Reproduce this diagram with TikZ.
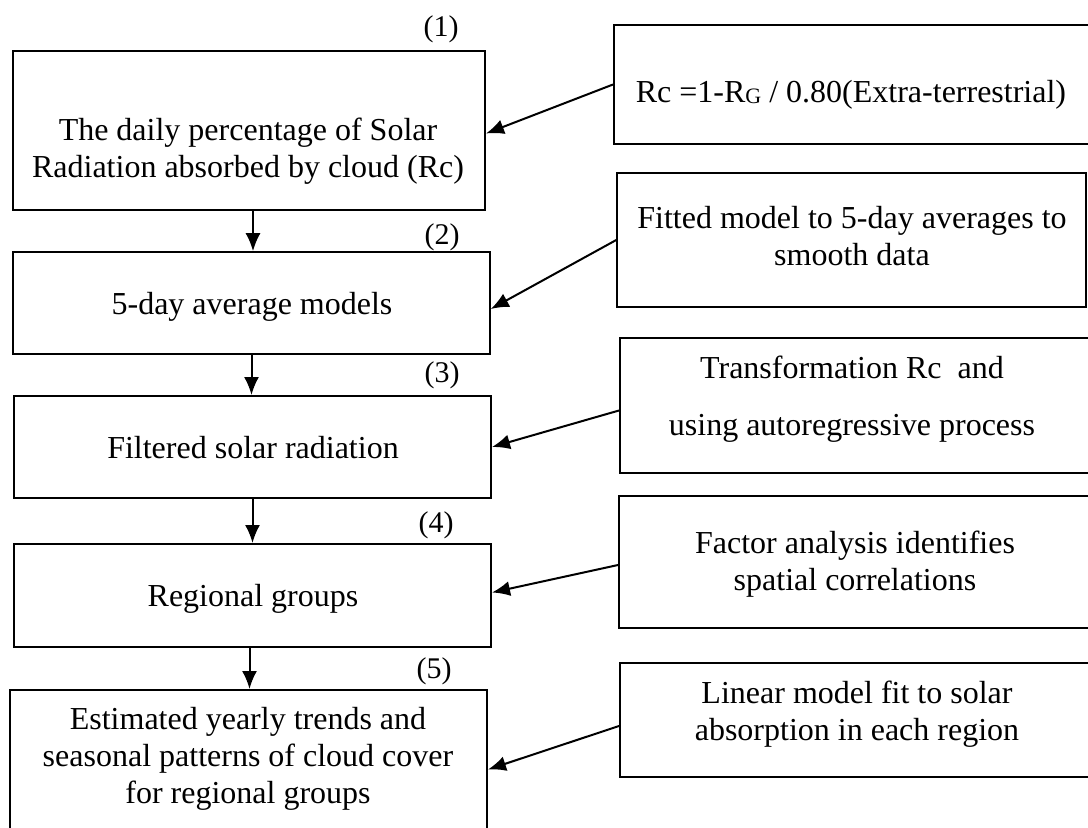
\documentclass[tikz,border=0pt]{standalone}
\usepackage{fontspec}
\setmainfont{Liberation Serif}
\usetikzlibrary{arrows.meta}
\begin{document}
\begin{tikzpicture}[x=1pt,y=-1pt,
  box/.style={draw=black, line width=2pt, rectangle, inner sep=0pt},
  lbl/.style={anchor=base, inner sep=0pt, font=\fontsize{32}{37}\selectfont},
  num/.style={inner sep=0pt, font=\fontsize{30}{34}\selectfont},
  arr/.style={line width=2pt, -{Latex[length=18pt,width=15pt]}}]
\useasboundingbox[fill=white] (0,0) rectangle (1088,828);
% left boxes
\node[box, minimum width=472pt, minimum height=159pt] (b1) at (249,130.5) {};
\node[box, line width=1.6pt, minimum width=477pt, minimum height=102pt] (b2) at (251.5,303) {};
\node[box, minimum width=477pt, minimum height=102pt] (b3) at (252.5,447) {};
\node[box, minimum width=477pt, minimum height=103pt] (b4) at (252.5,595.5) {};
\node[box, minimum width=477pt, minimum height=145pt] (b5) at (248.5,762.5) {};
% right boxes
\node[box, minimum width=486pt, minimum height=119pt] (r1) at (857,84.5) {};
\node[box, line width=1.5pt, minimum width=469pt, minimum height=134pt] (r2) at (851.5,240) {};
\node[box, minimum width=480pt, minimum height=135pt] (r3) at (860,405.5) {};
\node[box, minimum width=481pt, minimum height=132pt] (r4) at (859.5,562) {};
\node[box, minimum width=480pt, minimum height=114pt] (r5) at (860,720) {};
% left texts
\node[lbl] (t1) at (248,140) {\begin{tabular}[t]{@{}c@{}}The daily percentage of Solar\\Radiation absorbed by cloud (Rc)\end{tabular}};
\node[lbl] (t2) at (252,314) {5-day average models};
\node[lbl] (t3) at (253,458) {Filtered solar radiation};
\node[lbl] (t4) at (253,606) {Regional groups};
\node[lbl] (t5) at (248,729) {\begin{tabular}[t]{@{}c@{}}Estimated yearly trends and\\seasonal patterns of cloud cover\\for regional groups\end{tabular}};
% right texts
\node[lbl] (s1) at (851,102) {Rc =1-R\raisebox{-0.12ex}{\fontsize{22}{22}\selectfont G} / 0.80(Extra-terrestrial)};
\node[lbl] (s2) at (852,228) {\begin{tabular}[t]{@{}c@{}}Fitted model to 5-day averages to\\smooth data\end{tabular}};
\node[lbl] (s3) at (852,378) {\begin{tabular}[t]{@{}c@{}}Transformation Rc\ \ and\\[20pt]using autoregressive process\end{tabular}};
\node[lbl] (s4) at (855,553) {\begin{tabular}[t]{@{}c@{}}Factor analysis identifies\\spatial correlations\end{tabular}};
\node[lbl] (s5) at (857,703) {\begin{tabular}[t]{@{}c@{}}Linear model fit to solar\\absorption in each region\end{tabular}};
% step numbers
\node[num] (n1) at (441,29) {(1)};
\node[num] (n2) at (442,237) {(2)};
\node[num] (n3) at (442,375) {(3)};
\node[num] (n4) at (436,525) {(4)};
\node[num] (n5) at (434,671) {(5)};
% vertical arrows
\draw[arr] ([xshift=4pt]b1.south) -- ([xshift=4pt]b1.south |- b2.north);
\draw[arr] (b2.south) -- (b2.south |- b3.north);
\draw[arr] (b3.south) -- (b3.south |- b4.north);
\draw[arr] ([xshift=-3pt]b4.south) -- ([xshift=-3pt]b4.south |- b5.north);
% side arrows
\draw[arr] (r1.west) -- ([yshift=-3pt]b1.east);
\draw[arr] (r2.west) -- ([yshift=-6pt]b2.east);
\draw[arr] ([yshift=-5pt]r3.west) -- (b3.east);
\draw[arr] ([yshift=-3pt]r4.west) -- ([yshift=3pt]b4.east);
\draw[arr] ([yshift=-6pt]r5.west) -- ([yshift=-7pt]b5.east);
\end{tikzpicture}
\end{document}
